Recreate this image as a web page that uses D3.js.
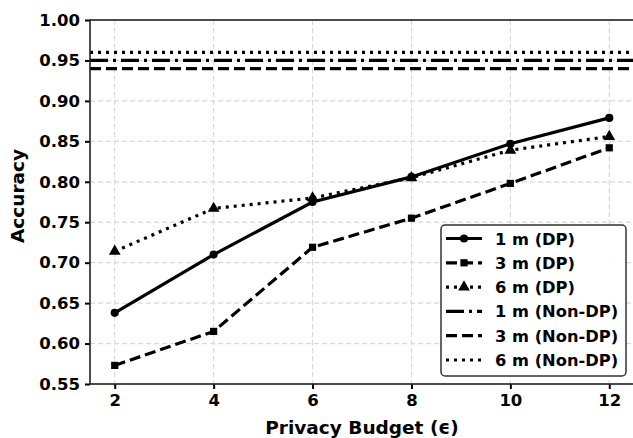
<!DOCTYPE html>
<html>
<head>
<meta charset="utf-8">
<script src="https://cdn.jsdelivr.net/npm/d3@7/dist/d3.min.js"></script>
<style>
  html, body { margin: 0; padding: 0; background: #fff; }
  svg { display: block; font-family: "DejaVu Sans", sans-serif; font-weight: bold; }
</style>
</head>
<body>
<svg id="chart" width="633" height="438"></svg>
<script>
// Privacy budget values (epsilon)
const epsilons = [2, 4, 6, 8, 10, 12];

// Accuracy under differential privacy, per distance
const acc1mDP = [0.638, 0.710, 0.775, 0.806, 0.847, 0.879];
const acc3mDP = [0.573, 0.615, 0.719, 0.755, 0.798, 0.842];
const acc6mDP = [0.714, 0.767, 0.780, 0.805, 0.839, 0.856];

// Accuracy baselines without differential privacy
const acc1mNonDP = 0.95;
const acc3mNonDP = 0.94;
const acc6mNonDP = 0.96;

const xTicks = [2, 4, 6, 8, 10, 12];
const yTicks = [0.55, 0.60, 0.65, 0.70, 0.75, 0.80, 0.85, 0.90, 0.95, 1.00];

const svg = d3.select("#chart");
const W = 633, H = 438;
const margin = { left: 90, right: -1, top: 20, bottom: 54 };
const plotW = W - margin.left - margin.right;
const plotH = H - margin.top - margin.bottom;

const x = d3.scaleLinear().domain([1.5, 12.5]).range([margin.left, margin.left + plotW]);
const y = d3.scaleLinear().domain([0.55, 1.00]).range([margin.top + plotH, margin.top]);

// grid
const grid = svg.append("g");
grid.selectAll("line.gx").data(xTicks).join("line")
  .attr("x1", d => x(d)).attr("x2", d => x(d))
  .attr("y1", margin.top).attr("y2", margin.top + plotH)
  .attr("stroke", "#d9d9d9").attr("stroke-width", 1.2).attr("stroke-dasharray", "5,3");
grid.selectAll("line.gy").data(yTicks).join("line")
  .attr("x1", margin.left).attr("x2", margin.left + plotW)
  .attr("y1", d => y(d)).attr("y2", d => y(d))
  .attr("stroke", "#d9d9d9").attr("stroke-width", 1.2).attr("stroke-dasharray", "5,3");

// Non-DP horizontal baselines
const baselines = [
  { v: acc1mNonDP, dash: "18,5,3,5" },
  { v: acc3mNonDP, dash: "11,5" },
  { v: acc6mNonDP, dash: "3,5" }
];
svg.append("g").selectAll("line").data(baselines).join("line")
  .attr("x1", margin.left).attr("x2", margin.left + plotW)
  .attr("y1", d => y(d.v)).attr("y2", d => y(d.v))
  .attr("stroke", "#000").attr("stroke-width", 3.2)
  .attr("stroke-dasharray", d => d.dash);

// DP series
const series = [
  { name: "1 m (DP)", vals: acc1mDP, dash: null, marker: "circle" },
  { name: "3 m (DP)", vals: acc3mDP, dash: "11,5", marker: "square" },
  { name: "6 m (DP)", vals: acc6mDP, dash: "3,5", marker: "triangle" }
];
const line = d3.line().x(d => x(d[0])).y(d => y(d[1]));
const symbolFor = {
  circle: d3.symbol().type(d3.symbolCircle).size(52),
  square: d3.symbol().type(d3.symbolSquare).size(52),
  triangle: d3.symbol().type(d3.symbolTriangle).size(60)
};

series.forEach(s => {
  const pts = epsilons.map((e, i) => [e, s.vals[i]]);
  svg.append("path").datum(pts)
    .attr("d", line).attr("fill", "none")
    .attr("stroke", "#000").attr("stroke-width", 3.2)
    .attr("stroke-dasharray", s.dash);
  svg.append("g").selectAll("path").data(pts).join("path")
    .attr("d", symbolFor[s.marker])
    .attr("transform", d => `translate(${x(d[0])},${y(d[1])})`)
    .attr("fill", "#000");
});

// axes
const xAxis = d3.axisBottom(x).tickValues(xTicks).tickSize(5).tickPadding(5)
  .tickFormat(d3.format("d"));
const yAxis = d3.axisLeft(y).tickValues(yTicks).tickSize(5).tickPadding(5)
  .tickFormat(d3.format(".2f"));

const gx = svg.append("g").attr("transform", `translate(0,${margin.top + plotH})`).call(xAxis);
const gy = svg.append("g").attr("transform", `translate(${margin.left},0)`).call(yAxis);
[gx, gy].forEach(g => {
  g.select(".domain").remove();
  g.selectAll(".tick line").attr("stroke", "#000").attr("stroke-width", 2);
  g.selectAll(".tick text").attr("fill", "#000")
    .style("font-size", "16.5px").style("font-weight", "bold")
    .style("font-family", "DejaVu Sans");
});

// frame
svg.append("rect")
  .attr("x", margin.left).attr("y", margin.top)
  .attr("width", plotW).attr("height", plotH)
  .attr("fill", "none").attr("stroke", "#222").attr("stroke-width", 1.6);

// axis titles
svg.append("text")
  .attr("x", margin.left + plotW / 2).attr("y", 434)
  .attr("text-anchor", "middle").style("font-size", "18.5px")
  .text("Privacy Budget (ϵ)");
svg.append("text")
  .attr("transform", `translate(24,${margin.top + plotH / 2 - 6}) rotate(-90)`)
  .attr("text-anchor", "middle").style("font-size", "18.5px")
  .text("Accuracy");

// legend
const legendItems = [
  { name: "1 m (DP)", dash: null, marker: "circle" },
  { name: "3 m (DP)", dash: "11,5", marker: "square" },
  { name: "6 m (DP)", dash: "3,5", marker: "triangle" },
  { name: "1 m (Non-DP)", dash: "18,5,3,5", marker: null },
  { name: "3 m (Non-DP)", dash: "11,5", marker: null },
  { name: "6 m (Non-DP)", dash: "3,5", marker: null }
];
const lg = svg.append("g");
lg.append("rect")
  .attr("x", 441).attr("y", 225).attr("width", 185).attr("height", 151)
  .attr("rx", 4).attr("fill", "#fff").attr("fill-opacity", 0.9)
  .attr("stroke", "#333").attr("stroke-width", 1.5);
legendItems.forEach((it, i) => {
  const cy = 238.5 + i * 24.3;
  lg.append("line")
    .attr("x1", 446).attr("x2", 482).attr("y1", cy).attr("y2", cy)
    .attr("stroke", "#000").attr("stroke-width", 3.2)
    .attr("stroke-dasharray", it.dash);
  if (it.marker) {
    lg.append("path").attr("d", symbolFor[it.marker])
      .attr("transform", `translate(464,${cy})`).attr("fill", "#000");
  }
  lg.append("text").attr("x", 495).attr("y", cy + 6)
    .style("font-size", "16.3px").text(it.name);
});
</script>
</body>
</html>
